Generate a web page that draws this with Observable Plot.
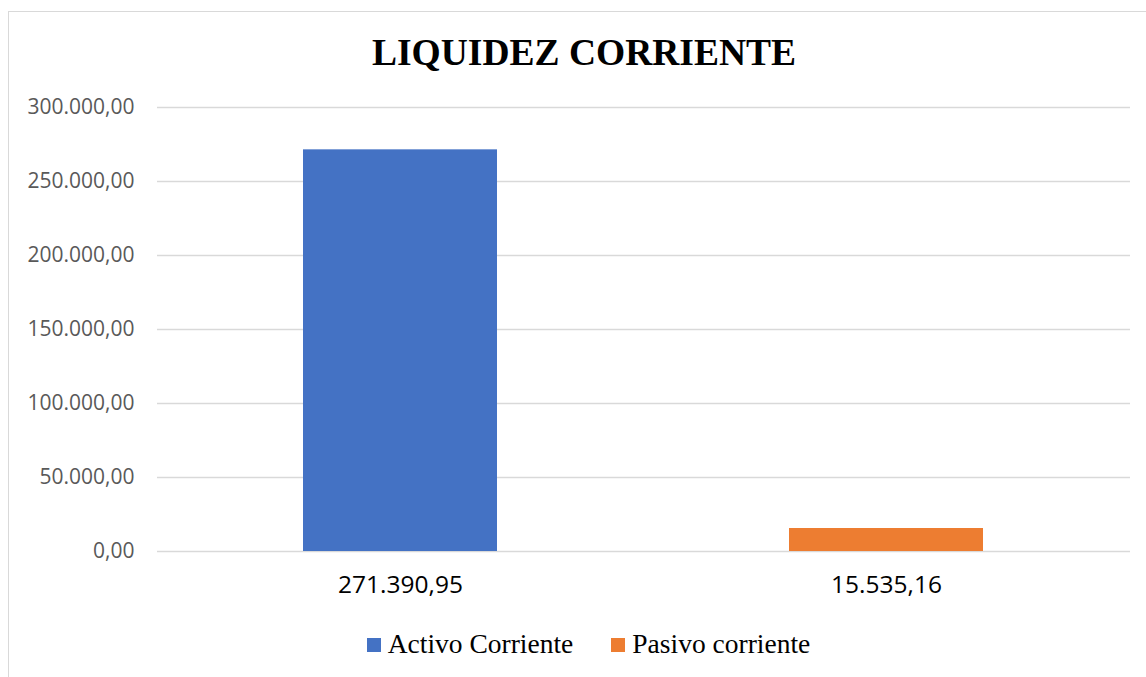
<!DOCTYPE html>
<html>
<head>
<meta charset="utf-8">
<script src="https://cdn.jsdelivr.net/npm/d3@7"></script>
<script src="https://cdn.jsdelivr.net/npm/@observablehq/plot@0.6"></script>
<style>
  html, body { margin: 0; padding: 0; background: #fff; }
  #wrap { position: relative; width: 1146px; height: 677px; overflow: hidden; }
  #frame { position: absolute; left: 8px; top: 11px; width: 1200px; height: 700px; border: 1px solid #d9d9d9; box-sizing: border-box; }
  #title { position: absolute; left: 0; width: 1168px; top: 31px; line-height: 1.15; text-align: center; font-family: "Liberation Serif", "Times New Roman", serif; font-weight: bold; font-size: 37.5px; color: #000; }
  #chart { position: absolute; left: 0; top: 0; }
  #legend { position: absolute; left: 0; width: 1177px; top: 626px; line-height: 1.15; text-align: center; font-family: "Liberation Serif", "Times New Roman", serif; font-size: 27.5px; color: #000; white-space: nowrap; }
  .item { display: inline-flex; align-items: center; margin: 0 19px; }
  .sw { display: inline-block; width: 14px; height: 14px; margin-right: 7px; position: relative; top: 1px; }
</style>
</head>
<body>
<div id="wrap">
  <div id="frame"></div>
  <div id="chart"></div>
  <div id="title">LIQUIDEZ CORRIENTE</div>
  <div id="legend"></div>
</div>
<script>
const categories = ["Activo Corriente", "Pasivo corriente"];
const values = [271390.95, 15535.16];
const colors = ["#4472C4", "#ED7D31"];
const yTicks = [0, 50000, 100000, 150000, 200000, 250000, 300000];

const es = d3.formatLocale({decimal: ",", thousands: ".", grouping: [3], currency: ["", "€"]});
const fmt = es.format(",.2f");

const data = categories.map((c, i) => ({cat: c, value: values[i]}));
const labelOf = new Map(categories.map((c, i) => [c, fmt(values[i])]));

const plot = Plot.plot({
  width: 1146,
  height: 610,
  marginTop: 107,
  marginBottom: 59,
  marginLeft: 157,
  marginRight: 16,
  style: {background: "transparent", overflow: "visible"},
  x: {domain: categories, paddingInner: 0.6, paddingOuter: 0.3, label: null},
  y: {domain: [0, 300000], label: null},
  color: {domain: categories, range: colors},
  marks: [
    Plot.gridY(yTicks, {stroke: "#d9d9d9", strokeOpacity: 1, strokeWidth: 1.5}),
    Plot.barY(data, {x: "cat", y: "value", fill: "cat"}),
    Plot.axisY(yTicks, {tickSize: 0, tickPadding: 23, tickFormat: fmt, fontSize: 21, fill: "#595959", fontFamily: "'Open Sans', 'Liberation Sans', sans-serif", label: null}),
    Plot.axisX({tickSize: 0, tickPadding: 24, tickFormat: d => labelOf.get(d), fontSize: 24.5, fill: "#000", fontFamily: "'Open Sans', 'Liberation Sans', sans-serif", label: null})
  ]
});
document.getElementById("chart").appendChild(plot);

const legend = document.getElementById("legend");
categories.forEach((c, i) => {
  const item = document.createElement("span");
  item.className = "item";
  const sw = document.createElement("span");
  sw.className = "sw";
  sw.style.background = colors[i];
  item.appendChild(sw);
  item.appendChild(document.createTextNode(c));
  legend.appendChild(item);
});
</script>
</body>
</html>
